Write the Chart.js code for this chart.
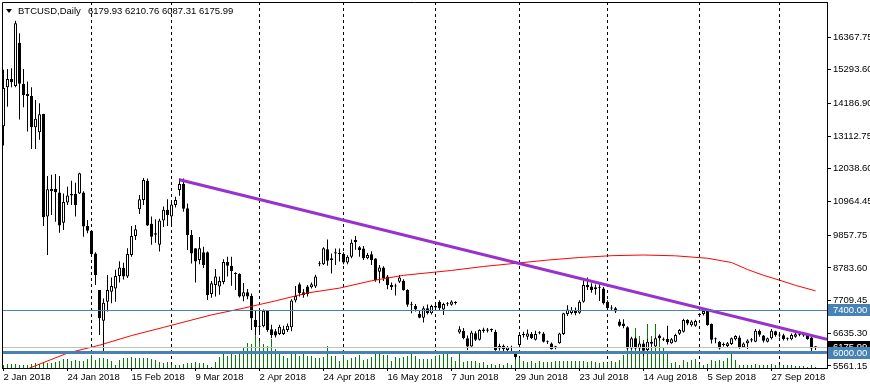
<!DOCTYPE html>
<html>
<head>
<meta charset="utf-8">
<script src="https://cdn.jsdelivr.net/npm/chart.js@4.4.1/dist/chart.umd.min.js"></script>
<style>
html,body{margin:0;padding:0;background:#fff;}
</style>
</head>
<body>
<canvas id="myChart" width="870" height="390"></canvas>
<script>
const symbolTitle = 'BTCUSD,Daily';
const lastQuote = '6179.93 6210.76 6087.31 6175.99';

// x axis: one bar per weekday from 2 Jan 2018, labels every 16 bars
const tickIdx = [0, 16, 32, 48, 64, 80, 96, 112, 128, 144, 160, 176, 192];
const tickText = ['2 Jan 2018', '24 Jan 2018', '15 Feb 2018', '9 Mar 2018', '2 Apr 2018', '24 Apr 2018',
    '16 May 2018', '7 Jun 2018', '29 Jun 2018', '23 Jul 2018', '14 Aug 2018', '5 Sep 2018', '27 Sep 2018'];
// first bar of each month -> dashed separators
const monthIdx = [22, 42, 64, 85, 108, 129, 151, 174, 194];
const priceTicks = [5561.15, 6635.30, 7709.45, 8783.60, 9857.75, 10964.45, 12038.60, 13112.75, 14186.90, 15293.60, 16367.75];

const opens = [
    13440,14720,14990,14760,16180,14830,14500,14430,13400,13240,
    13840,10470,11380,11380,11260,10270,10930,11160,11210,11230,
    11260,10160,10000,9260,8060,7050,7670,8000,8110,8520,
    8790,8500,9210,9830,10710,11010,11650,10230,9920,9540,
    10340,10690,10470,10850,11340,11540,10740,9860,9430,9040,
    9300,9300,7930,8220,8170,8320,8980,8850,8620,8580,
    7840,7980,7860,7070,6870,6870,7380,6770,6700,6610,
    6610,6740,6830,7710,8250,7980,8170,8150,8170,8920,
    8900,9400,9040,9300,9240,9240,8960,9150,9700,9460,
    9420,9100,9230,9090,8660,8800,8500,8220,8170,8330,
    8360,8060,7560,7530,7280,7150,7460,7290,7530,7670,
    7420,7600,7570,7650,6660,6720,6470,6200,6640,6420,
    6710,6720,6750,6690,6140,6230,6090,6160,5980,6250,
    6580,6520,6610,6420,6640,6630,6360,6300,6190,6310,
    6610,7270,7300,7400,7310,7670,8220,8170,8080,8160,
    8110,7670,7480,7460,7020,6960,6830,6140,6470,6140,
    6300,6090,6360,6200,6560,6420,6450,6310,6360,6620,
    6690,7070,6900,6880,7240,7270,7370,6940,6440,6360,
    6280,6220,6280,6440,6500,6180,6310,6400,6360,6710,
    6560,6360,6470,6700,6570,6570,6460,6440,6520,6590,
    6620,6580,6500,6179.93];
const highs = [
    15290,15320,15340,16900,16490,15320,14910,14720,14300,14190,
    13850,11800,11840,11870,11800,11230,11450,11650,11580,11910,
    11300,10360,10030,9300,8060,7780,8550,8470,8720,9000,
    8950,9430,10160,10190,11180,11740,11720,10470,10380,10400,
    10800,11040,11010,11120,11720,11720,10900,10030,9430,9800,
    9480,9320,8350,8750,8500,9070,9150,9150,8640,8610,
    8290,8090,7940,7380,7380,7420,7400,6920,6780,6920,
    6880,6960,7750,8190,8300,8090,8220,8300,8560,9000,
    9460,9720,9260,9420,9420,9300,9200,9720,9830,9500,
    9500,9270,9330,9100,8880,8840,8550,8300,8260,8550,
    8410,8080,7670,7600,7400,7520,7580,7570,7600,7720,
    7640,7660,7720,7690,6870,6810,6560,6720,6700,6770,
    6820,6810,6790,6750,6290,6270,6220,6230,6020,6600,
    6690,6760,6680,6720,6700,6680,6400,6330,6220,6650,
    7310,7560,7500,7480,7720,8440,8470,8280,8240,8260,
    8160,7720,7560,7500,7100,7100,6870,6520,6520,6380,
    6330,6450,6430,6520,6600,6500,6880,6480,6620,6780,
    7110,7100,7060,7080,7290,7400,7400,6960,6500,6380,
    6330,6350,6500,6570,6560,6330,6440,6480,6780,6760,
    6580,6500,6780,6720,6620,6620,6500,6630,6660,6690,
    6660,6620,6540,6210.76];
const lows = [
    12800,14080,14720,14720,13660,14060,13260,12690,12690,12990,
    10160,9210,10520,10300,9940,10030,10850,10850,10470,11210,
    9810,9920,9210,8220,6580,5980,7350,7620,7670,8300,
    8400,8450,9150,9700,10550,10850,10160,9540,9610,9320,
    10130,10160,10180,10770,11150,10630,9370,8930,8300,8900,
    8780,7730,7800,7840,7900,8250,8500,8200,8060,7810,
    7690,7750,6740,6580,6580,6830,6690,6470,6500,6580,
    6580,6680,6700,7650,7840,7800,7840,8110,8120,8840,
    8880,8850,8600,8880,8990,8900,8900,9100,9380,9150,
    9040,9070,8880,8330,8280,8350,8080,8060,7880,8290,
    8030,7510,7290,7350,7130,6990,7250,7250,7380,7400,
    7240,7530,7540,7580,6620,6440,6090,6190,6380,6400,
    6650,6660,6680,6060,6070,6030,6050,5980,5780,6220,
    6500,6420,6450,6400,6600,6330,6280,6100,6110,6290,
    6580,7200,7250,7230,7280,7640,8060,7970,7900,7700,
    7580,7420,7400,7300,6850,6800,6100,6100,6100,6050,
    5880,6020,6200,6150,6400,6380,6270,6290,6340,6580,
    6660,6900,6860,6850,7180,7220,6880,6300,6310,6100,
    6200,6180,6250,6400,6130,6150,6120,6340,6340,6520,
    6330,6330,6430,6520,6500,6400,6400,6410,6490,6540,
    6520,6420,6030,6087.31];
const closes = [
    14690,14990,14880,16820,14830,14460,14430,13400,13680,13830,
    10450,11370,11310,11270,10180,10950,11160,11210,10850,11890,
    10140,10000,9240,8550,7130,7640,8060,8190,8520,8800,
    8500,9240,9830,10050,11040,11670,10180,9810,9870,10340,
    10690,10520,10870,11010,11540,10730,9860,9260,8990,9430,
    8880,7890,8280,8500,8350,8980,8850,8680,8580,7840,
    7980,7840,7130,6830,6850,7380,6740,6580,6560,6850,
    6770,6880,7710,7860,7950,7890,7930,8250,8500,8900,
    9430,9020,9100,9260,9270,8960,9150,9610,9630,9370,
    9100,9210,9040,8390,8800,8440,8220,8150,8190,8470,
    8060,7570,7580,7420,7150,7460,7290,7530,7480,7460,
    7600,7590,7680,7630,6770,6470,6200,6660,6420,6740,
    6760,6760,6740,6090,6220,6120,6180,6150,5850,6580,
    6590,6630,6480,6610,6640,6360,6360,6110,6190,6630,
    7290,7420,7400,7290,7670,8220,8150,8060,8150,8130,
    7620,7460,7450,7350,6880,6870,6140,6470,6140,6300,
    6060,6360,6290,6470,6470,6420,6340,6440,6580,6740,
    7070,6960,7020,7040,7250,7370,6910,6420,6440,6140,
    6250,6310,6470,6550,6180,6300,6400,6440,6720,6590,
    6390,6470,6720,6570,6560,6440,6460,6580,6600,6590,
    6560,6440,6140,6175.99];
// tick volume, thousands
const volumes = [
    3,4,4,4,3,3,3,4,5,4,
    6,5,5,6,7,9,9,7,8,7,
    7,9,13,8,10,10,9,7,3,8,
    10,10,11,10,10,10,10,9,8,6,
    5,6,3,3,3,4,5,5,6,5,
    5,3,1,6,11,15,12,15,13,16,
    20,25,24,33,27,24,22,29,19,16,
    12,10,14,15,12,15,12,12,10,10,
    11,22,12,12,7,13,8,10,11,13,
    8,9,11,14,14,13,13,7,11,10,
    11,12,14,12,9,9,9,9,12,13,
    16,16,11,7,15,6,7,7,7,5,
    6,3,4,3,4,3,5,3,12,10,
    7,6,7,5,7,6,6,6,7,7,
    7,7,7,7,7,7,6,7,6,5,
    6,5,7,6,8,13,32,22,40,32,
    28,44,32,44,28,20,15,5,6,3,
    8,6,8,9,4,3,4,8,7,8,
    7,10,16,8,3,3,3,3,4,3,
    3,3,4,3,3,3,3,3,2,2,
    2,1,3,1];

// moving average at some bars
const maIdx = [0, 8, 16, 24, 32, 40, 52, 60, 68, 76, 84, 92, 100, 112, 120, 128, 136, 144, 152, 160, 168, 176, 182, 186, 190, 194, 198, 203];
const maVal = [5150, 5570, 5985, 6245, 6560, 6830, 7240, 7460, 7700, 7960, 8120, 8360, 8540, 8700, 8830, 8935, 9040, 9125, 9185, 9207, 9180, 9100, 8960, 8730, 8540, 8380, 8210, 8030];

// trend line (ray to right edge)
const trendIdx = [44, 205.875];
const trendVal = [11680, 6442];

const hLevels = [7400, 6000];
const bidPrice = 6175.99;

const FONT = 'Liberation Sans';
const xs = opens.map((o, i) => i);

const mtPlugin = {
    id: 'mt',
    beforeDatasetsDraw(chart) {
        const {ctx, chartArea: a, scales: {x}} = chart;
        ctx.save();
        ctx.strokeStyle = '#000';
        ctx.lineWidth = 1;
        ctx.setLineDash([3, 3]);
        monthIdx.forEach(i => {
            const px = Math.floor(x.getPixelForValue(i)) + 0.5;
            ctx.beginPath();
            ctx.moveTo(px, a.top);
            ctx.lineTo(px, a.bottom);
            ctx.stroke();
        });
        ctx.restore();
    },
    afterDatasetsDraw(chart) {
        const {ctx, chartArea: a, scales: {y}} = chart;
        ctx.save();
        // bid line
        let py = Math.floor(y.getPixelForValue(bidPrice)) + 0.5;
        ctx.strokeStyle = '#c0c0c0';
        ctx.lineWidth = 1;
        ctx.beginPath(); ctx.moveTo(a.left, py); ctx.lineTo(a.right, py); ctx.stroke();
        ctx.strokeStyle = '#4682b4';
        hLevels.forEach((v, k) => {
            const w = k == 1 ? 3 : 1;
            ctx.lineWidth = w;
            const p = Math.floor(y.getPixelForValue(v)) + 0.5;
            ctx.beginPath(); ctx.moveTo(a.left, p); ctx.lineTo(a.right, p); ctx.stroke();
        });
        ctx.restore();
    },
    afterDraw(chart) {
        const {ctx, chartArea: a, scales: {y}} = chart;
        ctx.save();
        // frame left and top
        ctx.strokeStyle = '#000';
        ctx.lineWidth = 1;
        ctx.beginPath();
        ctx.moveTo(a.left + 0.5, a.bottom);
        ctx.lineTo(a.left + 0.5, a.top + 0.5);
        ctx.lineTo(a.right, a.top + 0.5);
        ctx.stroke();
        // title
        ctx.fillStyle = '#000';
        ctx.beginPath();
        ctx.moveTo(6, 9); ctx.lineTo(12, 9); ctx.lineTo(9, 13); ctx.closePath();
        ctx.fill();
        ctx.font = '9.5px "' + FONT + '"';
        ctx.textBaseline = 'middle';
        ctx.fillText(symbolTitle, 18, 11.5);
        ctx.fillText(lastQuote, 88, 11.5);
        // price boxes
        const boxes = [[bidPrice, '#000'], [hLevels[0], '#4682b4'], [hLevels[1], '#4682b4']];
        boxes.forEach(b => {
            const p = Math.round(y.getPixelForValue(b[0]));
            ctx.fillStyle = b[1];
            ctx.fillRect(a.right + 1, p - 6, 870 - a.right - 1, 12);
            ctx.fillStyle = '#fff';
            ctx.fillText(b[0].toFixed(2), a.right + 6, p + 0.5);
        });
        ctx.restore();
    }
};

const ctx = document.getElementById('myChart').getContext('2d');
const myChart = new Chart(ctx, {
    type: 'bar',
    data: {
        datasets: [
            {
                label: 'Volume',
                data: xs.map(i => ({x: i, y: volumes[i]})),
                yAxisID: 'yv',
                backgroundColor: '#008000',
                barThickness: 1,
                grouped: false,
                inflateAmount: 0,
                order: 5
            },
            {
                label: 'Wick',
                data: xs.map(i => ({x: i, y: [lows[i], highs[i]]})),
                yAxisID: 'y',
                backgroundColor: '#000',
                barThickness: 1,
                grouped: false,
                inflateAmount: 0,
                borderWidth: 0,
                order: 4
            },
            {
                label: 'Body',
                data: xs.map(i => ({x: i, y: [opens[i], closes[i]]})),
                yAxisID: 'y',
                backgroundColor: xs.map(i => closes[i] >= opens[i] ? '#fff' : '#000'),
                borderColor: '#000',
                borderWidth: 1,
                borderSkipped: false,
                barThickness: 3,
                minBarLength: 1,
                grouped: false,
                inflateAmount: 0,
                order: 3
            },
            {
                type: 'line',
                label: 'MA',
                data: maIdx.map((v, k) => ({x: v, y: maVal[k]})),
                yAxisID: 'y',
                borderColor: '#ff0000',
                borderWidth: 1,
                pointRadius: 0,
                tension: 0,
                order: 2
            },
            {
                type: 'line',
                label: 'Trend',
                data: trendIdx.map((v, k) => ({x: v, y: trendVal[k]})),
                yAxisID: 'y',
                borderColor: '#9932cc',
                borderWidth: 3,
                pointRadius: 0,
                order: 1
            }
        ]
    },
    options: {
        responsive: false,
        animation: false,
        devicePixelRatio: 1,
        events: [],
        layout: {padding: {left: 2, top: 2, right: 0, bottom: 0}},
        plugins: {legend: {display: false}, tooltip: {enabled: false}},
        scales: {
            x: {
                type: 'linear',
                offset: false,
                min: -0.375,
                max: 205.875,
                afterBuildTicks: s => { s.ticks = tickIdx.map(v => ({value: v})); },
                afterFit: s => { s.height = 22; s.paddingLeft = 0; s.paddingRight = 0; },
                grid: {drawOnChartArea: false, offset: false, tickLength: 3, color: '#000'},
                border: {color: '#000'},
                ticks: {
                    autoSkip: false, maxRotation: 0, align: 'start', padding: 1, color: '#000',
                    font: {family: FONT, size: 9.5},
                    callback: v => tickText[tickIdx.indexOf(v)]
                }
            },
            y: {
                position: 'right',
                min: 5495.45,
                max: 17517.4,
                afterBuildTicks: s => { s.ticks = priceTicks.map(v => ({value: v})); },
                afterFit: s => { s.width = 43; s.paddingTop = 0; s.paddingBottom = 0; },
                grid: {drawOnChartArea: false, tickLength: 4, color: '#000'},
                border: {color: '#000'},
                ticks: {
                    padding: 2, color: '#000',
                    font: {family: FONT, size: 9.5},
                    callback: v => v.toFixed(2)
                }
            },
            yv: {display: false, min: 0, max: 366}
        }
    },
    plugins: [mtPlugin]
});
</script>
</body>
</html>
